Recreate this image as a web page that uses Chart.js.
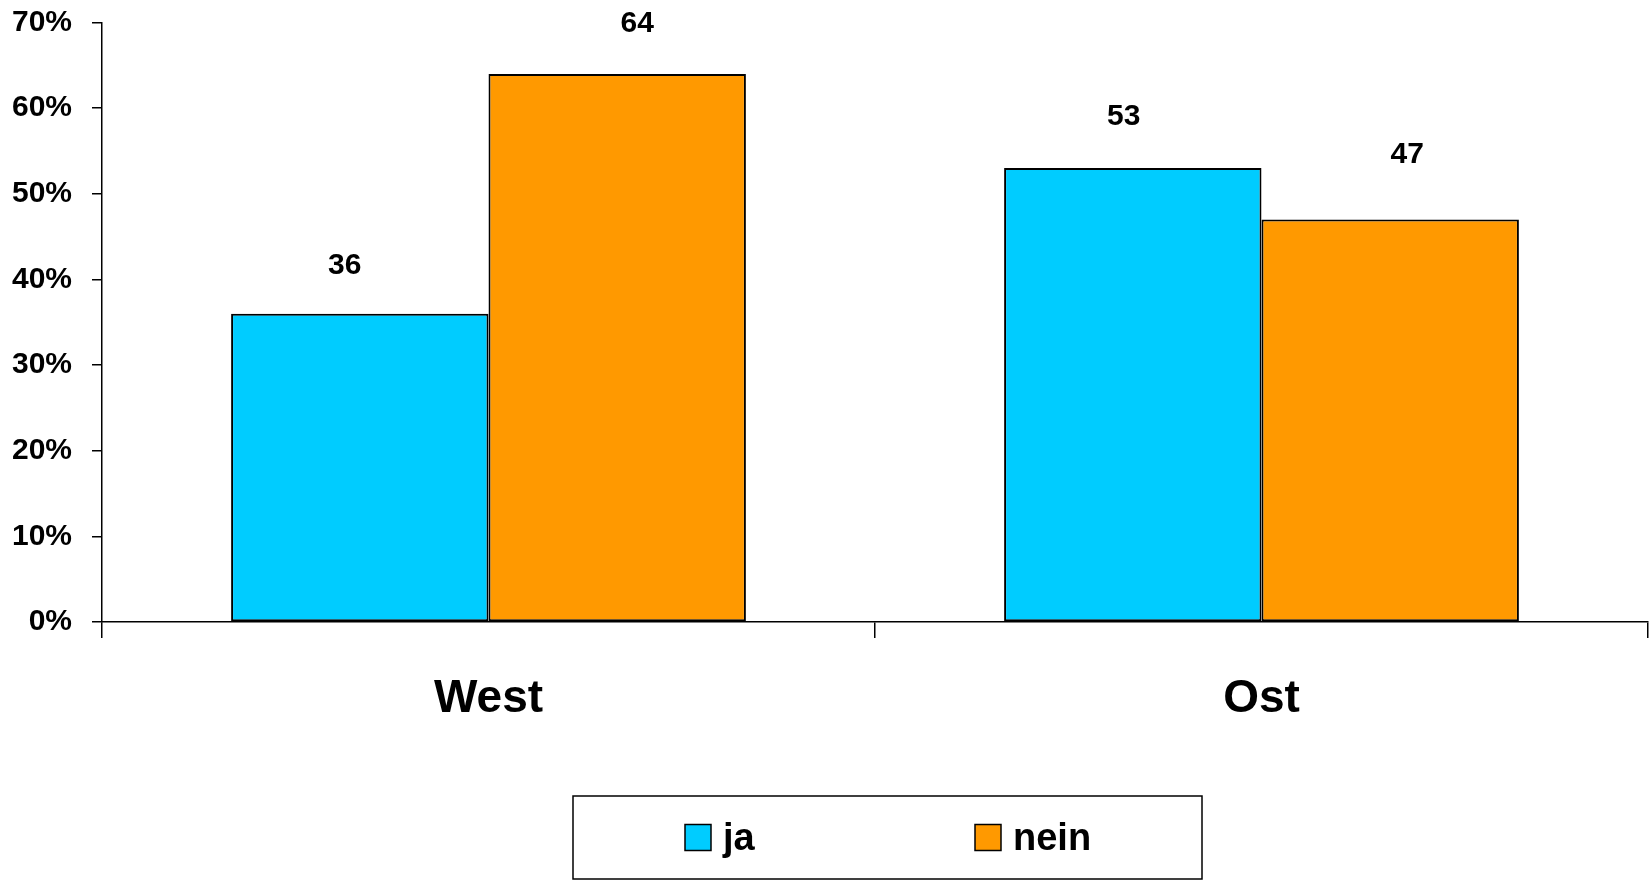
<!DOCTYPE html>
<html>
<head>
<meta charset="utf-8">
<script src="https://cdn.jsdelivr.net/npm/chart.js@4/dist/chart.umd.min.js"></script>
<style>
  html, body { margin: 0; padding: 0; background: #fff; }
  #wrap { width: 1649px; height: 882px; position: relative; }
</style>
</head>
<body>
<div id="wrap"><canvas id="c" width="1649" height="882"></canvas></div>
<script>
const categories = ["West", "Ost"];
const seriesNames = ["ja", "nein"];
const jaValues = [36, 53];
const neinValues = [64, 47];
const seriesColors = ["#00CCFF", "#FF9900"];
const yTickMax = 70;
const yTickStep = 10;

const FONT = "'Liberation Sans', Arial, Helvetica, sans-serif";

const valueLabels = {
  id: 'valueLabels',
  afterDatasetsDraw(chart, args, opts) {
    const ctx = chart.ctx;
    ctx.save();
    ctx.font = 'bold 30px ' + FONT;
    ctx.fillStyle = '#000';
    ctx.textAlign = 'center';
    ctx.textBaseline = 'middle';
    chart.data.datasets.forEach((ds, di) => {
      const meta = chart.getDatasetMeta(di);
      meta.data.forEach((el, i) => {
        const off = opts.offsets[di][i];
        ctx.fillText(String(ds.data[i]), el.x + off[0], el.y + off[1]);
      });
    });
    ctx.restore();
  }
};

const boxLegend = {
  id: 'boxLegend',
  afterDraw(chart, args, opts) {
    const ctx = chart.ctx;
    ctx.save();
    ctx.strokeStyle = '#000';
    ctx.lineWidth = 1.5;
    ctx.strokeRect(opts.x, opts.y, opts.w, opts.h);
    const cy = opts.y + opts.h / 2;
    ctx.font = 'bold 38px ' + FONT;
    ctx.textBaseline = 'middle';
    ctx.textAlign = 'left';
    chart.data.datasets.forEach((ds, di) => {
      const ix = opts.items[di];
      ctx.fillStyle = ds.backgroundColor;
      ctx.fillRect(ix, cy - 13, 26, 26);
      ctx.lineWidth = 1.5;
      ctx.strokeStyle = '#000';
      ctx.strokeRect(ix, cy - 13, 26, 26);
      ctx.fillStyle = '#000';
      ctx.fillText(ds.label, ix + 38, cy + 2);
    });
    ctx.restore();
  }
};

new Chart(document.getElementById('c'), {
  type: 'bar',
  data: {
    labels: categories,
    datasets: [
      { label: seriesNames[0], data: jaValues, backgroundColor: seriesColors[0],
        borderColor: '#000', borderWidth: 2, borderSkipped: false },
      { label: seriesNames[1], data: neinValues, backgroundColor: seriesColors[1],
        borderColor: '#000', borderWidth: 2, borderSkipped: false }
    ]
  },
  options: {
    responsive: false,
    animation: false,
    devicePixelRatio: 1,
    layout: { padding: { top: 22.5, right: 1, left: 0, bottom: 0 } },
    datasets: { bar: { categoryPercentage: 0.666, barPercentage: 1.0 } },
    plugins: {
      legend: { display: false },
      tooltip: { enabled: false },
      valueLabels: { offsets: [[[-15, -48], [-9, -51]], [[20, -50], [17, -65]]] },
      boxLegend: { x: 573, y: 796, w: 629, h: 83, items: [685, 975] }
    },
    scales: {
      x: {
        afterFit(s) { s.height = 260; s.paddingLeft = 0; s.paddingRight = 0; },
        grid: { offset: true, drawOnChartArea: false, drawTicks: true, tickLength: 16,
                color: '#000', lineWidth: 1.5 },
        border: { color: '#000', width: 1.5 },
        ticks: { color: '#000', font: { family: FONT, size: 46, weight: 'bold' }, padding: 34 }
      },
      y: {
        min: 0, max: yTickMax,
        afterFit(s) { s.width = 102; s.paddingTop = 0; s.paddingBottom = 0; },
        grid: { drawOnChartArea: false, drawTicks: true, tickLength: 10, color: '#000', lineWidth: 1.5 },
        border: { color: '#000', width: 1.5 },
        ticks: { stepSize: yTickStep, color: '#000', padding: 20,
                 font: { family: FONT, size: 30, weight: 'bold' },
                 callback: v => v + '%' }
      }
    }
  },
  plugins: [valueLabels, boxLegend]
});
</script>
</body>
</html>
